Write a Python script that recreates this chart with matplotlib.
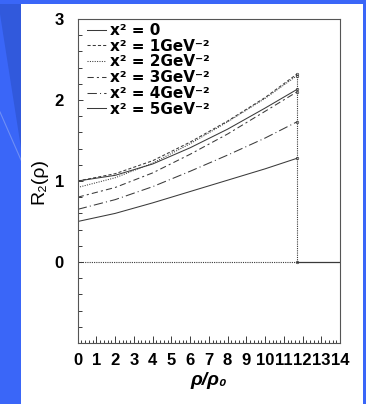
"""R2(rho) curves for several x^2 values, drawn on a slide-style blue background."""

import matplotlib

matplotlib.use("Agg")

import matplotlib.pyplot as plt
from matplotlib.patches import Polygon, Rectangle
from matplotlib.ticker import MultipleLocator

# rho / rho_0 sample points (curves stop at rho_max)
rho = [0.0, 2.0, 4.0, 6.0, 8.0, 10.0, 11.7]
rho_max = 11.7

r2_x0 = [1.00, 1.07, 1.21, 1.41, 1.64, 1.90, 2.13]
r2_x1 = [1.00, 1.09, 1.25, 1.48, 1.74, 2.03, 2.32]
r2_x2 = [0.92, 1.04, 1.22, 1.46, 1.73, 2.02, 2.30]
r2_x3 = [0.80, 0.92, 1.10, 1.33, 1.58, 1.86, 2.10]
r2_x4 = [0.65, 0.77, 0.93, 1.12, 1.32, 1.53, 1.73]
r2_x5 = [0.50, 0.60, 0.73, 0.87, 1.01, 1.15, 1.28]

labels = [
    "x² = 0",
    "x² = 1GeV⁻²",
    "x² = 2GeV⁻²",
    "x² = 3GeV⁻²",
    "x² = 4GeV⁻²",
    "x² = 5GeV⁻²",
]
xticks = list(range(0, 15))
yticks = [0, 1, 2, 3]

W, H = 366, 404
BLUE = "#3a66f8"
DARK_BLUE = "#3159dc"
INK = "#3a3a3a"

fig = plt.figure(figsize=(W / 100, H / 100), dpi=100, facecolor=BLUE)


def px(x, y):
    """Pixel position (from top-left) to figure fraction."""
    return x / W, 1 - y / H


# slide decoration + white panel
fig.patches.append(Polygon([px(0, 4), px(21, 4), px(21, 148), px(0, 14)],
                           closed=True, transform=fig.transFigure,
                           facecolor=DARK_BLUE, edgecolor="none", zorder=-2))
fig.lines.append(plt.Line2D([0, 21 / W], [1 - 112 / H, 1 - 160 / H],
                            transform=fig.transFigure, color="#6f8ff5",
                            lw=0.8, zorder=-2))
fig.patches.append(Rectangle(px(21, 404), (363 - 21) / W, (404 - 4) / H,
                             transform=fig.transFigure, facecolor="white",
                             edgecolor="none", zorder=-1))

ax = fig.add_axes([77.7 / W, 1 - 343 / H, (340 - 77.7) / W, (343 - 19) / H])
ax.set_zorder(2)
ax.set_facecolor("white")

styles = [
    "-",
    (0, (3, 2)),
    (0, (1, 1.3)),
    (0, (6, 3, 2, 3)),
    (0, (9, 3, 1, 3)),
    "-",
]
series = [r2_x0, r2_x1, r2_x2, r2_x3, r2_x4, r2_x5]
for values, ls, lab in zip(series, styles, labels):
    ax.plot(rho, values, linestyle=ls, color=INK, lw=0.75, label=lab)
    ax.plot(rho[-1], values[-1], "o", ms=1.8, mfc="none", mec=INK, mew=0.5)

# zero line and the cut-off at rho_max
top = max(v[-1] for v in series)
ax.plot([0, rho_max], [0, 0], linestyle=(0, (1, 1)), color=INK, lw=0.8)
ax.plot([rho_max, 14], [0, 0], "-", color=INK, lw=0.9)
ax.plot([rho_max, rho_max], [0, top], linestyle=(0, (1, 1)), color=INK, lw=0.8)
ax.plot(rho_max, 0, "o", ms=1.8, mfc="none", mec=INK, mew=0.5)

ax.set_xlim(0, 14)
ax.set_ylim(-1, 3)
ax.set_xticks(xticks)
ax.set_yticks(yticks)
ax.xaxis.set_minor_locator(MultipleLocator(0.2))
ax.yaxis.set_minor_locator(MultipleLocator(0.2))
ax.tick_params(axis="both", which="both", direction="in", colors=INK,
               labelcolor="black", top=False, right=False, width=0.7)
ax.tick_params(axis="x", which="major", length=5, pad=7)
ax.tick_params(axis="x", which="minor", length=2.5)
ax.tick_params(axis="y", which="major", length=3.5, pad=10)
ax.tick_params(axis="y", which="minor", length=3)
for lab in ax.get_xticklabels() + ax.get_yticklabels():
    lab.set_family("Liberation Sans")
    lab.set_fontsize(12)
    lab.set_fontweight("bold")

for spine in ax.spines.values():
    spine.set_color("#555555")
    spine.set_linewidth(0.8)

ax.set_ylabel("R₂(ρ)", family=["Liberation Sans", "DejaVu Sans"],
              fontsize=14, labelpad=5)
ax.set_xlabel("ρ/ρ₀", family=["Liberation Sans", "DejaVu Sans"],
              fontsize=14, fontstyle="italic", fontweight="bold", labelpad=3)

ax.legend(loc="upper left", bbox_to_anchor=(0.034, 0.988), frameon=False,
          prop={"family": "DejaVu Sans", "weight": "bold", "size": 11},
          handlelength=1.3, handletextpad=0.2, labelspacing=0.05,
          borderpad=0, borderaxespad=0)

fig.savefig("out.png", dpi=100, facecolor=BLUE)
